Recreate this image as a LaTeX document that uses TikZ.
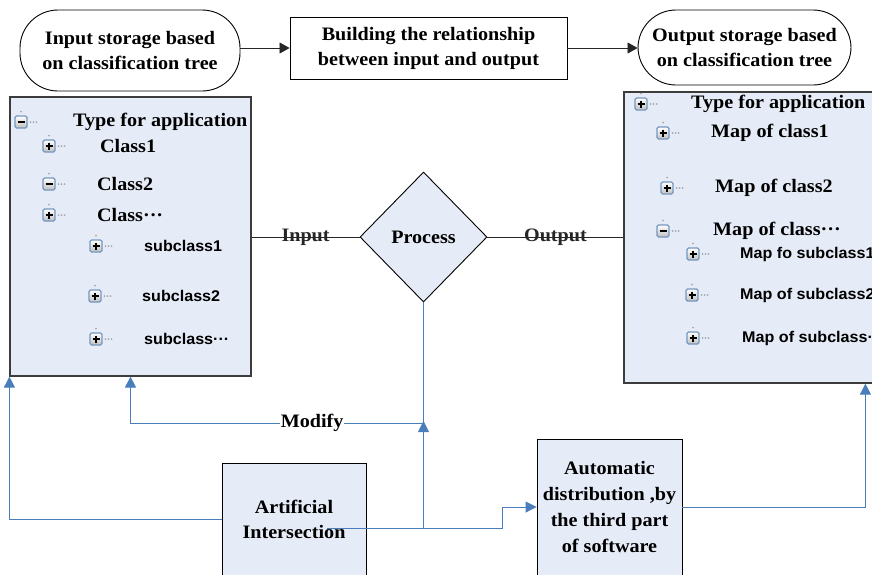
\documentclass[tikz,border=0pt]{standalone}
\usepackage{fontspec}
\setmainfont{Liberation Serif}[FakeStretch=1.06]
\newfontfamily\treesans{Liberation Sans}[FakeStretch=1.04]
\usetikzlibrary{shapes.geometric,arrows.meta}

\definecolor{panelfill}{HTML}{E6ECF7}
\definecolor{linkblue}{HTML}{4A7EBB}
\definecolor{frame}{HTML}{3C3C3C}
\definecolor{iconedge}{HTML}{7596C0}
\definecolor{dotgray}{HTML}{A8A8A8}

\tikzset{
  serifbig/.style={font=\fontsize{19}{25}\selectfont\bfseries},
  stadium/.style={draw=black, line width=0.9pt, rounded corners=38pt,
    align=center, inner sep=0pt, serifbig},
  flowbox/.style={draw=black, line width=0.9pt, align=center, inner sep=0pt, serifbig},
  panel/.style={draw=frame, line width=1.2pt, fill=panelfill, inner sep=0pt},
  treelabel/.style={anchor=west, inner sep=0pt, serifbig},
  sublabel/.style={anchor=west, inner sep=0pt,
    font=\treesans\fontsize{15.5}{18}\selectfont\bfseries},
  topflow/.style={draw=black!85, line width=0.8pt,
    -{Triangle[width=11pt,length=10pt]}},
  link/.style={draw=linkblue, line width=0.9pt},
  linkarrow/.style={link, -{Triangle[width=11pt,length=11pt]}},
  treeicon/.pic={
    \fill[dotgray] (9.5,0) circle (1) (12.5,0) circle (1) (15.5,0) circle (1)
      (0,-10.5) circle (1);
    \shade[top color=white, bottom color=black!25, draw=iconedge, line width=1.1pt,
      rounded corners=1.5pt] (-6,-6) rectangle (6,6);
    \draw[line width=1.5pt] (-3.5,0) -- (3.5,0);
  },
  treeplus/.pic={
    \pic {treeicon};
    \draw[line width=1.5pt] (0,-3.5) -- (0,3.5);
  }
}

\begin{document}
\begin{tikzpicture}[x=1pt,y=-1pt]
\useasboundingbox (0,0) rectangle (872,574);
\clip (0,0) rectangle (872,574);

% top row: storage terminals and the relationship step
\node[stadium, minimum width=220pt, minimum height=81pt] (instore) at (130,50.5)
  {Input storage based\\on classification tree};
\node[flowbox, minimum width=277pt, minimum height=62pt] (build) at (428.5,48)
  {Building the relationship\\between input and output};
\node[stadium, minimum width=213pt, minimum height=75pt] (outstore) at (744.5,47.5)
  {Output storage based\\on classification tree};
\draw[topflow] (instore.east |- build.west) -- (build.west);
\draw[topflow] (build.east) -- (outstore.west |- build.east);

% classification tree panels
\node[panel, minimum width=241pt, minimum height=279pt] (inpanel) at (130.5,236.5) {};
\node[panel, minimum width=276pt, minimum height=291pt] (outpanel) at (762,237.5) {};

% input tree
\pic at (21,122) {treeicon};
\node[treelabel] (in0) at (73,122) {Type for application};
\pic at (49,146) {treeplus};
\node[treelabel] (in1) at (100,146) {Class1};
\pic at (49,184) {treeicon};
\node[treelabel] (in2) at (97,184) {Class2};
\pic at (49,215) {treeplus};
\node[treelabel] (in3) at (97,215) {Class···};
\pic at (96,246) {treeplus};
\node[sublabel] (in4) at (144,246) {subclass1};
\pic at (95,296) {treeplus};
\node[sublabel] (in5) at (142,296) {subclass2};
\pic at (96,339) {treeplus};
\node[sublabel] (in6) at (144,339) {subclass···};

% output tree
\pic at (641,104) {treeplus};
\node[treelabel] (out0) at (691,104) {Type for application};
\pic at (663,133) {treeplus};
\node[treelabel] (out1) at (711,133) {Map of class1};
\pic at (667,188) {treeplus};
\node[treelabel] (out2) at (715,188) {Map of class2};
\pic at (663,231) {treeicon};
\node[treelabel] (out3) at (713,231) {Map of class···};
\pic at (693,254) {treeplus};
\node[sublabel] (out4) at (740,254) {Map fo subclass1};
\pic at (692,295) {treeplus};
\node[sublabel] (out5) at (740,295) {Map of subclass2};
\pic at (693,338) {treeplus};
\node[sublabel] (out6) at (742,338) {Map of subclass···};

% process step
\node[diamond, draw=black, line width=0.9pt, fill=panelfill, inner sep=0pt,
  minimum width=127pt, minimum height=130pt, serifbig] (process) at (423.5,237) {Process};
\draw[black!85, line width=0.8pt] (inpanel.east |- process.west) -- (process.west)
  node[midway, serifbig, inner sep=0pt] (inlbl) {Input};
\draw[black!85, line width=0.8pt] (process.east) -- (outpanel.west |- process.east)
  node[midway, serifbig, inner sep=0pt] (outlbl) {Output};

% bottom boxes
\node[flowbox, fill=panelfill, minimum width=144pt, minimum height=112pt] (art)
  at (294,519) {Artificial\\Intersection};
\node[flowbox, fill=panelfill, minimum width=145pt, minimum height=136pt,
  font=\fontsize{19}{26.3}\selectfont\bfseries] (auto)
  at (609.5,507) {Automatic\\distribution ,by\\the third part\\of software};

% feedback and distribution links
\coordinate (modj) at (process.south |- 0,423);
\coordinate (src) at (327,528);
\draw[linkarrow] (art.west) -| (inpanel.south west);
\draw[linkarrow] (modj) -| (inpanel.south)
  node[pos=0.19, fill=white, inner sep=1pt, serifbig] (modlbl) {Modify};
\draw[linkarrow] (src -| process.south) -- ([yshift=2pt]modj);
\draw[link] (modj) -- (process.south);
\draw[linkarrow] (src) -- ++(175,0) |- (auto.west);
\draw[linkarrow] (auto.east) -| ([xshift=242pt]outpanel.south west);
\end{tikzpicture}
\end{document}
